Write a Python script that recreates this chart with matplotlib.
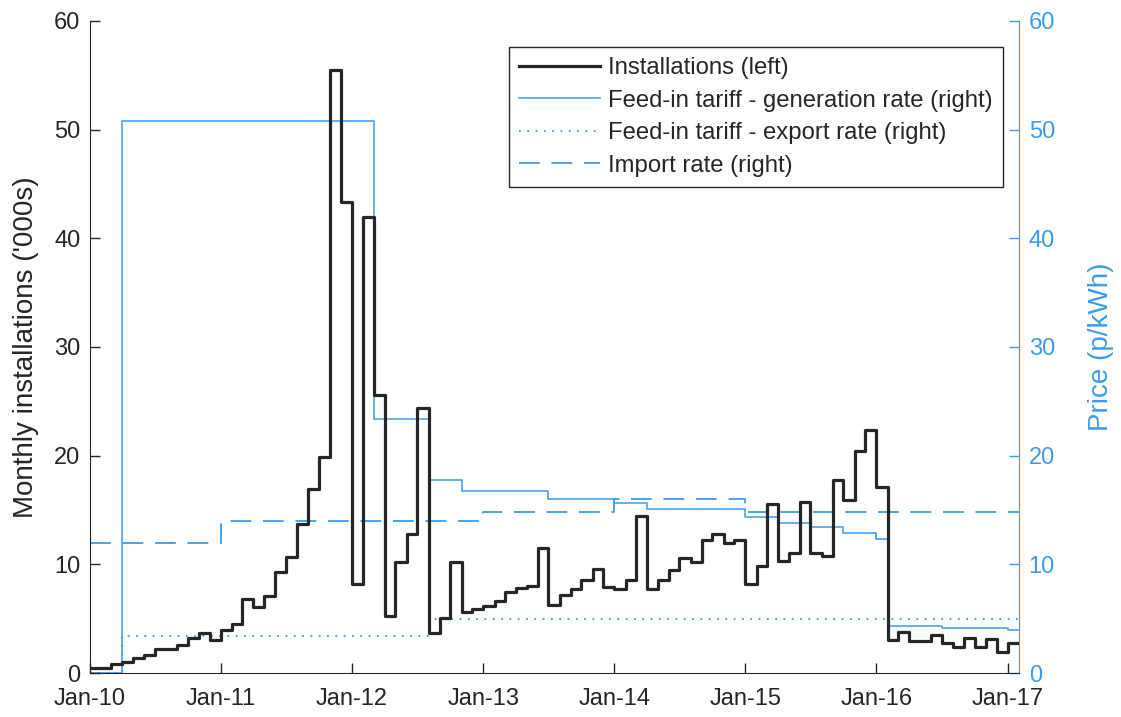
import matplotlib
matplotlib.use("Agg")
import matplotlib.pyplot as plt
import matplotlib.dates as mdates
import pandas as pd

# ─── DATA ──────────────────────────────────────────────────────────────────
# monthly installations ('000s), Jan-10 .. Jan-17
INSTALLS = [
    0.45, 0.45, 0.8, 1.0, 1.35, 1.7, 2.2, 2.2, 2.6, 3.2, 3.7, 3.0,           # 2010
    3.95, 4.5, 6.8, 6.1, 7.1, 9.3, 10.7, 13.7, 16.9, 19.9, 55.5, 43.3,       # 2011
    8.2, 42.0, 25.6, 5.2, 10.2, 12.75, 24.4, 3.65, 5.05, 10.2, 5.6, 5.85,    # 2012
    6.2, 6.6, 7.5, 7.8, 8.05, 11.5, 6.25, 7.2, 7.7, 8.55, 9.6, 7.95,         # 2013
    7.75, 8.55, 14.45, 7.7, 8.55, 9.5, 10.55, 10.25, 12.25, 12.8, 12.0, 12.2,  # 2014
    8.2, 9.85, 15.55, 10.3, 11.0, 15.7, 11.0, 10.75, 17.75, 15.9, 20.45, 22.4,  # 2015
    17.15, 3.0, 3.75, 2.95, 2.95, 3.5, 2.8, 2.4, 3.2, 2.4, 3.1, 1.9,         # 2016
    2.8,                                                                     # 2017
]
START = "2010-01-01"
END = "2017-02-01"

# price series (p/kWh) as change points
GEN_DATES = ["2010-01", "2010-04", "2012-03", "2012-08", "2012-11", "2013-07",
             "2014-01", "2014-04", "2015-01", "2015-04", "2015-07", "2015-10",
             "2016-01", "2016-02", "2016-07", "2017-01"]
GEN_RATE = [0.0, 50.8, 23.4, 17.8, 16.75, 16.0,
            15.6, 15.1, 14.4, 13.8, 13.45, 12.85,
            12.3, 4.33, 4.17, 4.0]

EXP_DATES = ["2010-01", "2010-04", "2012-08"]
EXP_RATE = [0.0, 3.45, 5.0]

IMP_DATES = ["2010-01", "2011-01", "2013-01", "2014-01", "2015-01"]
IMP_RATE = [12.0, 14.0, 14.85, 16.0, 14.85]

DARK = "#262626"
BLUE = "#3d9be9"

plt.rcParams.update({
    "font.family": ["Liberation Sans", "DejaVu Sans"],
    "font.size": 17,
})


def steps(dates, vals):
    # extend last value to the end of the axis
    x = list(pd.to_datetime(dates)) + [pd.Timestamp(END)]
    y = list(vals) + [vals[-1]]
    return x, y


fig = plt.figure(figsize=(11.21, 7.17), dpi=100)
ax = fig.add_axes([90 / 1121, 1 - 673 / 717, 929 / 1121, 652 / 717])
ax2 = ax.twinx()

# ─── RIGHT AXIS: PRICES ────────────────────────────────────────────────────
x, y = steps(GEN_DATES, GEN_RATE)
h_gen, = ax2.step(x, y, where="post", color=BLUE, lw=1.1,
                  label="Feed-in tariff - generation rate (right)")
x, y = steps(EXP_DATES, EXP_RATE)
h_exp, = ax2.step(x, y, where="post", color=BLUE, lw=1.3, linestyle=(0, (1, 3.6)),
                  label="Feed-in tariff - export rate (right)")
x, y = steps(IMP_DATES, IMP_RATE)
h_imp, = ax2.step(x, y, where="post", color=BLUE, lw=1.3, linestyle=(0, (11.5, 6.5)),
                  label="Import rate (right)")

# ─── LEFT AXIS: INSTALLATIONS ──────────────────────────────────────────────
months = pd.date_range(START, periods=len(INSTALLS), freq="MS")
x, y = steps(months, INSTALLS)
h_ins, = ax.step(x, y, where="post", color=DARK, lw=2.3, label="Installations (left)")

ax.set_zorder(ax2.get_zorder() + 1)
ax.patch.set_visible(False)

ax.set_xlim(pd.Timestamp(START), pd.Timestamp(END))
ax.set_ylim(0, 60)
ax2.set_ylim(0, 60)
ax.set_yticks(range(0, 61, 10))
ax2.set_yticks(range(0, 61, 10))
ax.xaxis.set_major_locator(mdates.YearLocator())
ax.xaxis.set_major_formatter(mdates.DateFormatter("%b-%y"))

for s in ["top", "right"]:
    ax.spines[s].set_visible(False)
for s in ["top", "left", "bottom"]:
    ax2.spines[s].set_visible(False)
ax.spines["left"].set_color(DARK)
ax.spines["bottom"].set_color(DARK)
ax2.spines["right"].set_color(BLUE)

ax.tick_params(axis="both", direction="in", length=7, width=1, colors=DARK, labelsize=17)
ax.tick_params(axis="x", pad=11)
ax.tick_params(axis="y", pad=7)
ax2.tick_params(axis="y", direction="in", length=7, width=1, colors=BLUE, labelsize=17, pad=7)

ax.set_ylabel("Monthly installations ('000s)", color=DARK, fontsize=20, labelpad=11)
ax2.set_ylabel("Price (p/kWh)", color=BLUE, fontsize=20, labelpad=24)

leg = ax.legend(handles=[h_ins, h_gen, h_exp, h_imp],
                loc="upper right", bbox_to_anchor=(1003 / 1121, 1 - 47 / 717),
                bbox_transform=fig.transFigure, borderaxespad=0,
                fontsize=17.2, handlelength=3.4, handletextpad=0.33,
                labelspacing=0.44, borderpad=0.42, frameon=True, fancybox=False,
                edgecolor=DARK, framealpha=1)
leg.get_frame().set_linewidth(1.0)
for t in leg.get_texts():
    t.set_color(DARK)

fig.savefig("out.png", dpi=100)
